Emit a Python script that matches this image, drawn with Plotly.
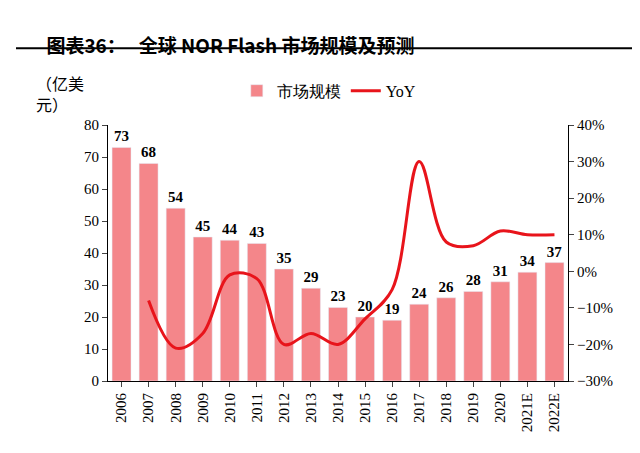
import plotly.graph_objects as go

# 全球 NOR Flash 市场规模（亿美元）及同比
years = ['2006', '2007', '2008', '2009', '2010', '2011', '2012', '2013', '2014',
         '2015', '2016', '2017', '2018', '2019', '2020', '2021E', '2022E']
market = [73, 68, 54, 45, 44, 43, 35, 29, 23, 20, 19, 24, 26, 28, 31, 34, 37]
yoy_years = years[1:]
yoy = [-8, -21, -17, -1, -2, -20, -17, -20, -13, -5, 30, 8, 7, 11, 10, 10]

fig = go.Figure()
fig.add_trace(go.Bar(x=years, y=market, name='市场规模', marker_color='#F4868A',
                     text=market, textposition='outside', cliponaxis=False,
                     textfont=dict(family='Liberation Serif', size=15, color='black'),
                     texttemplate='<b>%{text}</b>'))
fig.add_trace(go.Scatter(x=yoy_years, y=yoy, name='YoY', yaxis='y2', mode='lines',
                         line=dict(color='#E8141B', width=3, shape='spline', smoothing=1.0)))

fig.update_layout(
    width=640, height=453, plot_bgcolor='white', paper_bgcolor='white',
    margin=dict(l=100, r=80, t=117, b=80),
    font=dict(family='Liberation Serif', size=15, color='black'),
    bargap=0.3,
    title=dict(text='<b>图表36：   全球 NOR Flash 市场规模及预测</b>', x=0.06, y=0.93,
               font=dict(family='Noto Sans CJK SC', size=19)),
    legend=dict(orientation='h', x=0.28, y=1.2, xanchor='left', font=dict(size=16)),
    xaxis=dict(tickangle=-90, showline=True, linecolor='black', ticks='outside',
               tickfont=dict(size=15)),
    yaxis=dict(range=[0, 80], dtick=10, showline=True, linecolor='black', ticks='outside',
               showgrid=False, zeroline=False),
    yaxis2=dict(range=[-30, 40], dtick=10, overlaying='y', side='right', ticksuffix='%',
                showline=True, linecolor='black', ticks='outside', showgrid=False, zeroline=False),
    showlegend=True,
)
fig.add_annotation(text='（亿美<br>元）', xref='paper', yref='paper', x=-0.16, y=1.22,
                   xanchor='left', yanchor='top', showarrow=False, align='left',
                   font=dict(size=16, family='Noto Sans CJK SC'))
fig.add_shape(type='line', xref='paper', yref='paper', x0=-0.2, x1=1.17, y0=1.3, y1=1.3,
              line=dict(color='black', width=2))

fig.write_html('out.html')
